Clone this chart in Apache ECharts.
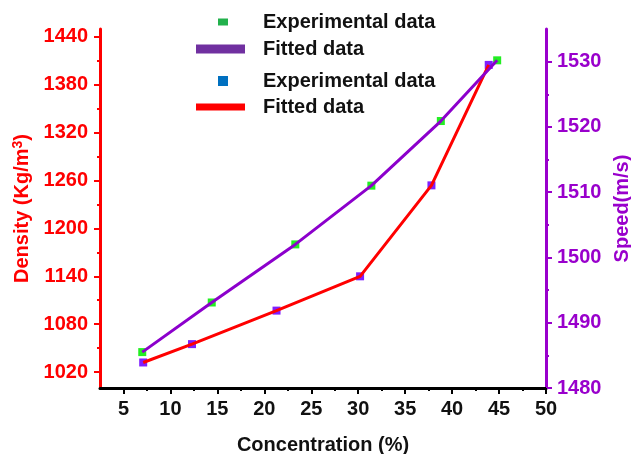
<!DOCTYPE html>
<html>
<head>
<meta charset="utf-8">
<script src="https://cdn.jsdelivr.net/npm/echarts@6/dist/echarts.min.js"></script>
<style>
  html, body { margin: 0; padding: 0; background: #fff; }
  #main { width: 631px; height: 454px; }
</style>
</head>
<body>
<div id="main"></div>
<script>
// density (left axis), experimental points joined by the red line
var densityX = [7.1, 12.3, 21.3, 30.2, 37.8, 43.9];
var densityY = [1032, 1055, 1097, 1140, 1254, 1405];
// sound speed (right axis), experimental points joined by the purple line
var speedX = [7.0, 14.4, 23.3, 31.4, 38.8, 44.8];
var speedY = [1485.5, 1493.1, 1502.0, 1511.0, 1520.9, 1530.2];

// tick values
var xMajor = [5, 10, 15, 20, 25, 30, 35, 40, 45, 50];
var xMinor = [7.5, 12.5, 17.5, 22.5, 27.5, 32.5, 37.5, 42.5, 47.5];
var densMajor = [1020, 1080, 1140, 1200, 1260, 1320, 1380, 1440];
var densMinor = [1050, 1110, 1170, 1230, 1290, 1350, 1410];
var speedMajor = [1480, 1490, 1500, 1510, 1520, 1530];
var speedMinor = [1485, 1495, 1505, 1515, 1525];

var legendText = {
    speedExp: 'Experimental data',
    speedFit: 'Fitted data',
    densExp: 'Experimental data',
    densFit: 'Fitted data'
};

function zip(xs, ys) {
    return xs.map(function (x, i) { return [x, ys[i]]; });
}
function plain(v) { return String(v); }

var font = 'Liberation Sans, Arial, sans-serif';
var RED = '#ff0000';
var PURPLE_AXIS = '#9900cc';
var PURPLE_LINE = '#8c00cc';

var myChart = echarts.init(document.getElementById('main'));

function legendOne(name, left, top, w, h, color, pad) {
    return {
        left: left, top: top, padding: 0,
        itemWidth: w, itemHeight: h,
        icon: 'rect',
        data: [{ name: name, itemStyle: { color: color } }],
        formatter: function (n) { return legendText[n]; },
        textStyle: {
            fontFamily: font, fontWeight: 'bold', fontSize: 20,
            color: '#111', lineHeight: 20, padding: [0, 0, 0, pad]
        },
        selectedMode: false
    };
}

function yAxisBase(min, max, color) {
    return {
        type: 'value', min: min, max: max,
        splitLine: { show: false },
        axisLine: { show: true, onZero: false, lineStyle: { color: color, width: 3 } }
    };
}

var option = {
    animation: false,
    grid: { left: 100, right: 85, top: 29, bottom: 66, outerBoundsMode: 'none' },
    legend: [
        legendOne('speedExp', 218, 12, 10, 7, '#22b14c', 30),
        legendOne('speedFit', 196, 39, 49, 9, '#7030a0', 13),
        legendOne('densExp', 218, 71, 10, 10, '#0070c0', 30),
        legendOne('densFit', 196, 97, 49, 7, RED, 13)
    ],
    xAxis: [
        {
            type: 'value', min: 2.5, max: 50, position: 'bottom',
            name: 'Concentration (%)', nameLocation: 'middle', nameGap: 47,
            nameTextStyle: { fontFamily: font, fontWeight: 'bold', fontSize: 20, color: '#111' },
            splitLine: { show: false },
            axisLine: { onZero: false, lineStyle: { color: '#000', width: 3 } },
            axisTick: { customValues: xMajor, length: 6, lineStyle: { color: '#000', width: 2 } },
            axisLabel: {
                customValues: xMajor, margin: 11, formatter: plain,
                fontFamily: font, fontWeight: 'bold', fontSize: 20, color: '#111'
            }
        },
        {
            type: 'value', min: 2.5, max: 50, position: 'bottom',
            splitLine: { show: false },
            axisLine: { show: false, onZero: false },
            axisTick: { customValues: xMinor, length: 3, lineStyle: { color: '#000', width: 2 } },
            axisLabel: { show: false }
        }
    ],
    yAxis: [
        Object.assign(yAxisBase(1000, 1450, RED), {
            position: 'left',
            name: 'Density (Kg/m{sup|3})', nameLocation: 'middle', nameGap: 58, nameRotate: 90,
            nameTextStyle: {
                fontFamily: font, fontWeight: 'bold', fontSize: 20, color: RED,
                rich: { sup: { fontFamily: font, fontWeight: 'bold', fontSize: 14, color: RED, verticalAlign: 'top', padding: [0, 0, 9, 0] } }
            },
            axisTick: { customValues: densMajor, length: 6, lineStyle: { color: RED, width: 2 } },
            axisLabel: {
                customValues: densMajor, margin: 12, formatter: plain,
                fontFamily: font, fontWeight: 'bold', fontSize: 20, color: RED
            }
        }),
        Object.assign(yAxisBase(1480, 1535, PURPLE_AXIS), {
            position: 'right',
            name: 'Speed(m/s)', nameLocation: 'middle', nameGap: 59, nameRotate: 90,
            nameTextStyle: { fontFamily: font, fontWeight: 'bold', fontSize: 20, color: PURPLE_AXIS },
            axisTick: { customValues: speedMajor, length: 6, lineStyle: { color: PURPLE_AXIS, width: 2 } },
            axisLabel: {
                customValues: speedMajor, margin: 11, formatter: plain,
                fontFamily: font, fontWeight: 'bold', fontSize: 20, color: PURPLE_AXIS
            }
        }),
        Object.assign(yAxisBase(1000, 1450, RED), {
            position: 'left',
            axisLine: { show: false, onZero: false },
            axisTick: { customValues: densMinor, length: 3, lineStyle: { color: RED, width: 2 } },
            axisLabel: { show: false }
        }),
        Object.assign(yAxisBase(1480, 1535, PURPLE_AXIS), {
            position: 'right',
            axisLine: { show: false, onZero: false },
            axisTick: { customValues: speedMinor, length: 3, lineStyle: { color: PURPLE_AXIS, width: 2 } },
            axisLabel: { show: false }
        })
    ],
    series: [
        {
            name: 'densFit', type: 'line', yAxisIndex: 0,
            data: zip(densityX, densityY),
            showSymbol: false, symbol: 'none',
            lineStyle: { color: RED, width: 3 },
            itemStyle: { color: RED }
        },
        {
            name: 'speedFit', type: 'line', yAxisIndex: 1,
            data: zip(speedX, speedY),
            showSymbol: false, symbol: 'none',
            lineStyle: { color: PURPLE_LINE, width: 3 },
            itemStyle: { color: PURPLE_LINE }
        },
        {
            name: 'densExp', type: 'scatter', yAxisIndex: 0,
            data: zip(densityX, densityY),
            symbol: 'rect', symbolSize: 8,
            itemStyle: { color: '#7f1fff', opacity: 1 }
        },
        {
            name: 'speedExp', type: 'scatter', yAxisIndex: 1,
            data: zip(speedX, speedY),
            symbol: 'rect', symbolSize: 8,
            itemStyle: { color: '#22ee22', opacity: 1 }
        }
    ]
};

myChart.setOption(option);
</script>
</body>
</html>
